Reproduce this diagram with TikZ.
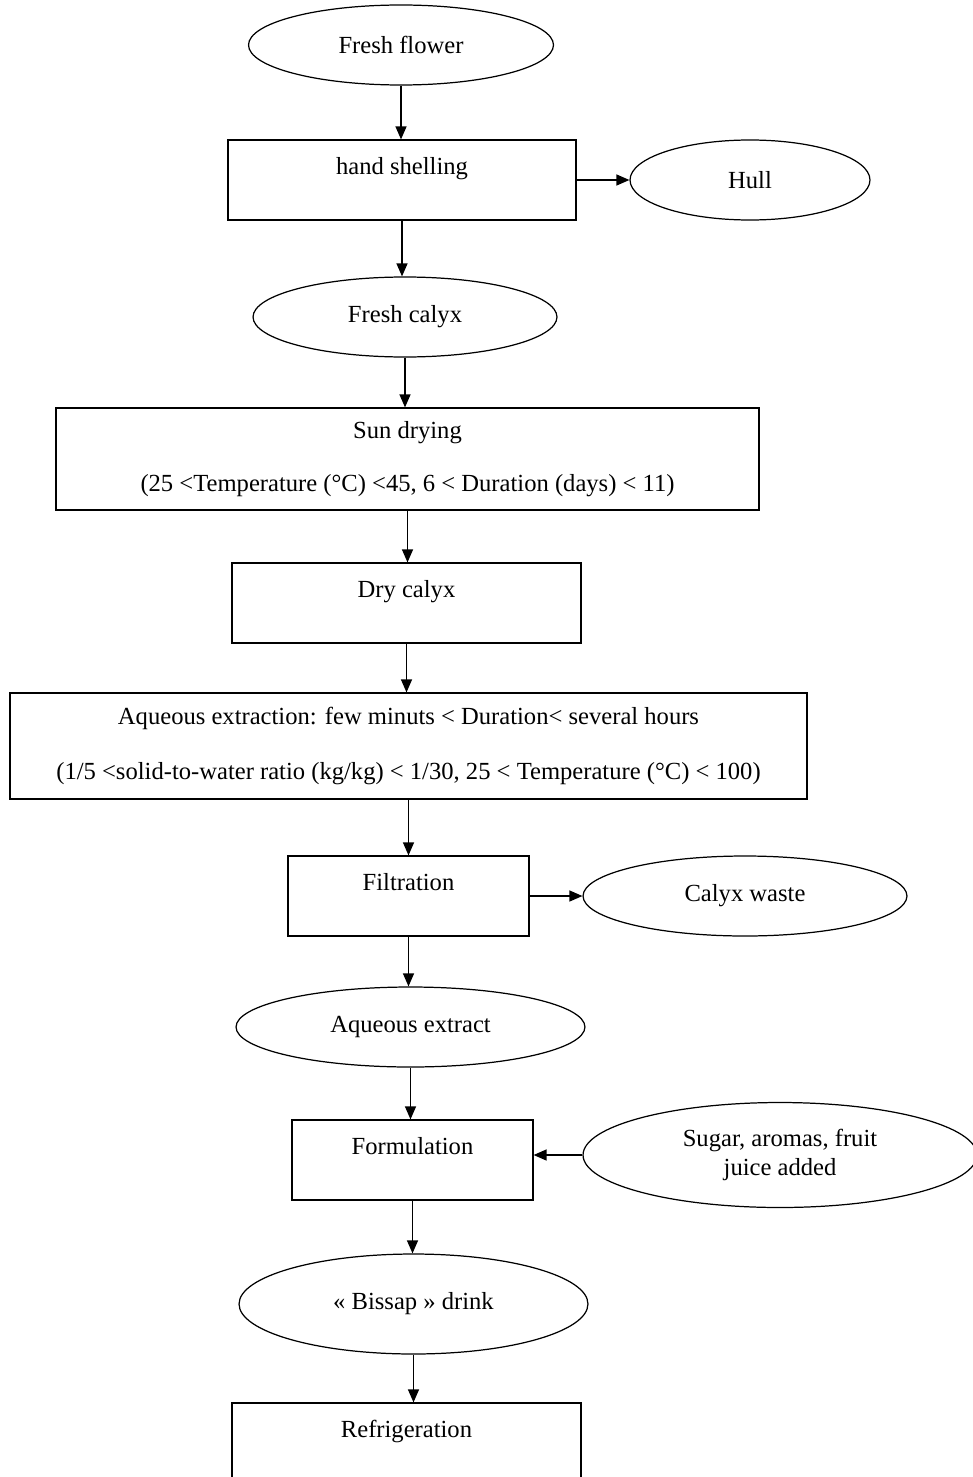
\documentclass[tikz,border=0pt]{standalone}
\usepackage{fontspec}
\setmainfont{Liberation Serif}
\usetikzlibrary{shapes.geometric,arrows.meta}

\begin{document}
\begin{tikzpicture}[x=0.02cm, y=-0.02cm, line width=0.7pt, >={Triangle[length=2.6mm,width=2.2mm]},
		every node/.style={font=\fontsize{14pt}{17pt}\selectfont},
		oval/.style={draw, ellipse, inner sep=0pt, minimum height=1.6cm},
		stage/.style={draw, rectangle, inner sep=0pt, text height=0.68cm, text depth=0.92cm},
		widestage/.style={draw, rectangle, align=center, inner sep=0pt}]
		\useasboundingbox (0,0) rectangle (973,1477);
		
		\node[oval, minimum width=6.1cm] (flower) at (401,45) {Fresh flower};
		\node[stage, minimum width=6.96cm] (shell) at (402,180) {hand shelling};
		\node[oval, minimum width=4.8cm] (hull) at (750,180) {Hull};
		\node[oval, minimum width=6.08cm] (calyx) at (405,317) {Fresh calyx};
		\node[widestage, minimum width=14.06cm, minimum height=2.04cm] (sun) at (407.5,459)
			{Sun drying\\[13pt](25 <Temperature (°C) <45, 6 < Duration (days) < 11)};
		\node[stage, minimum width=6.98cm] (dry) at (406.5,603) {Dry calyx};
		\node[widestage, minimum width=15.94cm, minimum height=2.12cm] (extraction) at (408.5,746)
			{Aqueous extraction: few minuts < Duration< several hours\\[14pt](1/5 <solid-to-water ratio (kg/kg) < 1/30, 25 < Temperature (°C) < 100)};
		\node[stage, minimum width=4.82cm] (filtration) at (408.5,896) {Filtration};
		\node[oval, minimum width=6.48cm] (waste) at (745,896) {Calyx waste};
		\node[oval, minimum width=6.98cm] (extract) at (410.5,1027) {Aqueous extract};
		\node[stage, minimum width=4.82cm] (formulation) at (412.5,1160) {Formulation};
		\node[oval, align=center, minimum width=7.88cm, minimum height=2.1cm] (sugar) at (780,1155)
			{Sugar, aromas, fruit\\juice added};
		\node[oval, minimum width=6.98cm, minimum height=2cm] (bissap) at (413.5,1304) {« Bissap » drink};
		\node[stage, minimum width=6.98cm] (fridge) at (406.5,1443) {Refrigeration};
		
		% main line
		\foreach \a/\b in {flower/shell, shell/calyx, calyx/sun, sun/dry, dry/extraction,
			extraction/filtration, filtration/extract, extract/formulation, formulation/bissap, bissap/fridge}
		{
			\draw[->] (\a.south) -- (\a.south |- \b.north);
		}
		% side streams
		\draw[->] (shell) -- (hull);
		\draw[->] (filtration) -- (waste);
		\draw[->] (sugar.west) -- (sugar.west -| formulation.east);
	\end{tikzpicture}
\end{document}
